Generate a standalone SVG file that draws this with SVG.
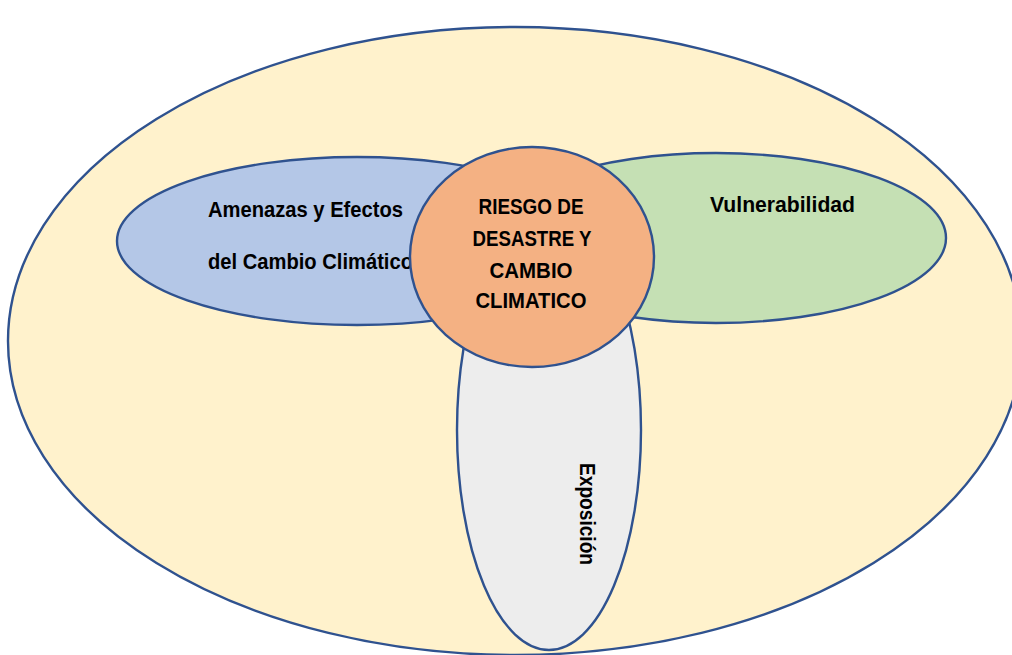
<svg xmlns="http://www.w3.org/2000/svg" width="1012" height="655" viewBox="0 0 1012 655">
<style>
.shape{stroke:#2F528F;stroke-width:2.4}
.t{font-family:"Liberation Sans",Arial,sans-serif;font-weight:bold;font-size:21.5px;fill:#000}
.c{text-anchor:middle}
</style>
<rect width="1012" height="655" fill="#FFFFFF"/>
<g id="contexto">
<ellipse class="shape" cx="515" cy="341" rx="507" ry="314" fill="#FFF2CC"/>
</g>
<g id="connectors"></g>
<g id="amenazas">
<ellipse class="shape" cx="357" cy="241" rx="240" ry="84" fill="#B4C7E7"/>
<text class="t" x="208" y="217" textLength="195" lengthAdjust="spacingAndGlyphs">Amenazas y Efectos</text>
<text class="t" x="208" y="269" textLength="205" lengthAdjust="spacingAndGlyphs">del Cambio Climático</text>
</g>
<g id="vulnerabilidad">
<ellipse class="shape" cx="716" cy="238" rx="230" ry="85" fill="#C5E0B4"/>
<text class="t" x="710" y="212" textLength="145" lengthAdjust="spacingAndGlyphs">Vulnerabilidad</text>
</g>
<g id="exposicion">
<ellipse class="shape" cx="549" cy="430" rx="92" ry="220" fill="#EDEDED"/>
<text class="t" transform="translate(580,463) rotate(90)" x="0" y="0" textLength="102" lengthAdjust="spacingAndGlyphs">Exposición</text>
</g>
<g id="riesgo">
<ellipse class="shape" cx="532" cy="257" rx="122" ry="110" fill="#F4B183"/>
<text class="t c" x="531" y="214" textLength="105" lengthAdjust="spacingAndGlyphs">RIESGO DE</text>
<text class="t c" x="532" y="246" textLength="119" lengthAdjust="spacingAndGlyphs">DESASTRE Y</text>
<text class="t c" x="531" y="278" textLength="83" lengthAdjust="spacingAndGlyphs">CAMBIO</text>
<text class="t c" x="531" y="308" textLength="111" lengthAdjust="spacingAndGlyphs">CLIMATICO</text>
</g>
</svg>
